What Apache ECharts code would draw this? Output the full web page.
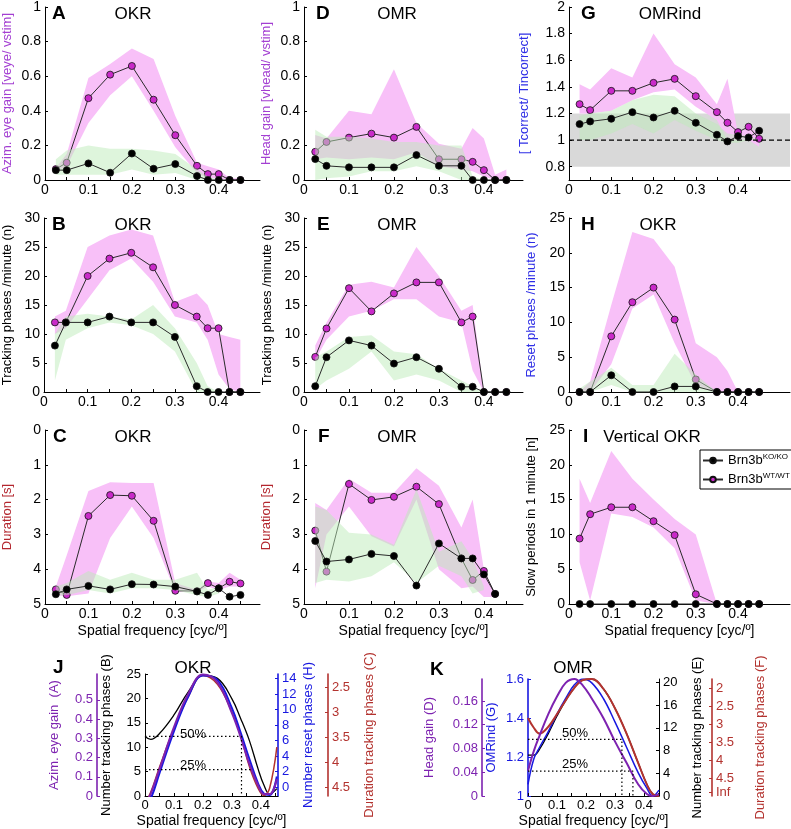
<!DOCTYPE html>
<html>
<head>
<meta charset="utf-8">
<script src="https://cdn.jsdelivr.net/npm/echarts@6/dist/echarts.min.js"></script>
<style>
  html, body { margin: 0; padding: 0; background: #fff; }
  #chart { width: 791px; height: 829px; }
</style>
</head>
<body>
<div id="chart"></div>
<script>
// spatial frequencies (cyc/deg) used in panels A-I
var freq = [0.025, 0.05, 0.1, 0.15, 0.2, 0.25, 0.3, 0.35, 0.375, 0.4, 0.425, 0.45];

// A  OKR eye gain
var wtA = [0.063, 0.10, 0.473, 0.609, 0.659, 0.464, 0.259, 0.082, 0.034, 0.034, 0, 0];
var koA = [0.057, 0.057, 0.096, 0.042, 0.153, 0.065, 0.092, 0.023, 0, 0, 0, 0];
var wtHiA = [0.07, 0.15, 0.59, 0.67, 0.76, 0.70, 0.37, 0.10, 0.08, 0.06, 0.01, 0.01];
var wtLoA = [0.05, 0.08, 0.33, 0.49, 0.60, 0.40, 0.19, 0.04, 0.01, 0.01, 0, 0];
var koHiA = [0.12, 0.17, 0.20, 0.18, 0.18, 0.17, 0.15, 0.06, 0.02, 0, null, null];
var koLoA = [0.03, 0.03, 0.03, 0.03, 0.06, 0.03, 0.04, 0, 0, 0, null, null];

// B  OKR tracking phases
var wtB = [12, 12, 20, 23, 24, 21.5, 15, 13, 11, 11, 0, 0];
var koB = [8, 12, 12, 13, 12, 12, 9.5, 1, 0, 0, 0, 0];
var wtHiB = [13, 14, 25, 27, 28, 27, 15.5, 17, 15, 10, 9.5, 9];
var wtLoB = [10, 11, 16, 21, 23, 19, 13, 12, 9, 3, 0.5, 0];
var koHiB = [10, 13, 13.5, 13, 12.5, 15, 11, 5, 1, 0, null, null];
var koLoB = [2, 9, 11, 12, 11.5, 10, 7, 0, 0, 0, null, null];

// C  OKR duration
var wtC = [4.58, 4.74, 2.47, 1.87, 1.89, 2.61, 4.62, 4.63, 4.40, 4.55, 4.36, 4.41];
var koC = [4.72, 4.58, 4.48, 4.58, 4.43, 4.44, 4.50, 4.64, 4.74, 4.55, 4.79, 4.74];
var wtHiC = [4.5, 3.6, 1.75, 1.5, 1.52, 1.52, 4.4, 4.6, 4.35, 4.4, 4.1, 4.3];
var wtLoC = [4.75, 4.78, 4.7, 3.1, 2.2, 3.1, 4.65, 4.65, 4.5, 4.6, 4.5, 4.5];
var koHiC = [4.5, 4.4, 4.05, 4.3, 4.1, 4.3, 4.3, 4.1, 4.6, 4.5, null, null];
var koLoC = [4.75, 4.75, 4.6, 4.7, 4.55, 4.55, 4.6, 4.75, 4.8, 4.7, null, null];

// D  OMR head gain
var wtD = [0.163, 0.22, 0.245, 0.268, 0.245, 0.307, 0.12, 0.12, 0.105, 0.057, 0, 0];
var koD = [0.121, 0.082, 0.073, 0.073, 0.073, 0.144, 0.082, 0.082, 0, 0, 0, 0];
var wtHiD = [0.26, 0.24, 0.40, 0.38, 0.64, 0.33, 0.21, 0.18, 0.30, 0.24, 0.03, 0.06];
var wtLoD = [0.12, 0.13, 0.12, 0.13, 0.12, 0.16, 0.08, 0.06, 0.05, 0.02, 0, 0];
var koHiD = [0.29, 0.25, 0.25, 0.24, 0.22, 0.22, 0.20, 0.20, 0.02, 0, null, null];
var koLoD = [0, 0.01, 0.02, 0.05, 0.05, 0.08, 0.05, 0, 0, 0, null, null];

// E  OMR tracking phases
var wtE = [6.05, 10.95, 17.9, 13.9, 17, 18.9, 18.9, 12, 13, 0, 0, 0];
var koE = [1, 6, 8.9, 8, 4.9, 6, 4, 0.9, 0.9, 0, 0, 0];
var wtHiE = [8, 12, 18.5, 19, 18, 25, 20, 14, 15, 0, null, null];
var wtLoE = [5.5, 9, 13, 14, 16, 16, 13, 12, 3.7, 0, null, null];
var koHiE = [6, 7, 9.5, 9.8, 7, 6.5, 4, 2, 1, 0, null, null];
var koLoE = [0.5, 2, 4, 7, 2, 3, 2, 0, 0, 0, null, null];

// F  OMR duration
var wtF = [2.89, 4.07, 1.55, 2.01, 1.92, 1.63, 2.13, 3.69, 4.31, 4.05, 4.71, null];
var koF = [3.19, 3.78, 3.72, 3.56, 3.62, 4.47, 3.26, 3.69, 3.69, 4.15, 4.71, null];
var wtHiF = [2.1, 2.3, 1.4, 1.8, 1.8, 1.1, 1.6, 2.8, 2.0, 4.0, 4.7, null];
var wtLoF = [4.55, 3.0, 2.2, 3.05, 3.35, 2.0, 4.0, 4.55, 4.5, 4.8, 4.8, null];
var koHiF = [2.2, 2.3, 2.95, 3.0, 3.3, 1.7, 3.5, 3.2, 3.7, 4.5, null, null];
var koLoF = [4.4, 4.3, 4.35, 4.2, 3.8, 4.4, 3.9, 4.2, 4.7, 4.6, null, null];

// G  OMRind
var wtG = [1.27, 1.225, 1.37, 1.37, 1.43, 1.46, 1.33, 1.21, 1.13, 1.06, 1.10, 1.01];
var koG = [1.12, 1.14, 1.16, 1.21, 1.17, 1.22, 1.13, 1.04, 0.99, 1.03, 1.02, 1.07];
var wtHiG = [1.42, 1.38, 1.54, 1.47, 1.80, 1.57, 1.47, 1.27, 1.46, 1.05, 1.10, 1.05];
var wtLoG = [1.2, 1.2, 1.22, 1.3, 1.36, 1.38, 1.25, 1.15, 1.0, 1.0, 1.0, 0.95];
var koHiG = [1.18, 1.2, 1.22, 1.3, 1.34, 1.33, 1.2, 1.12, 1.05, 1.04, 1.03, 1.0];
var koLoG = [1.0, 1.0, 1.05, 1.12, 1.05, 1.15, 1.07, 1.0, 0.98, 0.98, 1.0, 1.0];
var gNoise = [0.8, 1.2];   // grey chance band
var gChance = 1;           // dashed reference

// H  OKR reset phases
var wtH = [0, 0, 8, 12.9, 15, 10.4, 1.8, 0, 0, 0, 0, 0];
var koH = [0, 0, 2.4, 0, 0, 0.8, 0.8, 0, 0, 0, 0, 0];
var wtHiH = [0, 1.5, 12.5, 23, 22, 18, 7, 5, 3, 0, null, null];
var wtLoH = [0, 0, 4, 12, 14, 7, 1, 0, 0, 0, null, null];
var koHiH = [0.5, 1.5, 3.5, 1, 1, 5.5, 2.5, 0, null, null, null, null];
var koLoH = [0, 0, 1, 0, 0, 0, 0, 0, null, null, null, null];

// I  vertical OKR slow periods
var wtI = [9.4, 12.9, 13.9, 13.9, 11.9, 9.9, 1.4, 0, 0, 0, 0, 0];
var koI = [0, 0, 0, 0, 0, 0, 0, 0, 0, 0, 0, 0];
var wtHiI = [18, 14.5, 22, 18, 15, 12.2, 10, 0, null, null, null, null];
var wtLoI = [6, 0.5, 13, 12.5, 11, 8, 0.5, 0, null, null, null, null];

// J  OKR fitted curves, in units of the tracking-phase axis (B)
var jX = [0, 0.02, 0.05, 0.1, 0.15, 0.2, 0.25, 0.3, 0.33, 0.36, 0.39, 0.41, 0.43, 0.455];
var jTrack = [12.2, 11.6, 12.8, 16.6, 21.4, 24.7, 24.1, 19.9, 15.9, 11.4, 5.6, 2.3, 0.4, 1.5];
var jGain = [-1.8, 0.5, 5.5, 14.1, 21, 24.9, 23.3, 17, 12.1, 6.6, 2.2, 0.4, 0.4, 3.5];
var jReset = [-2, -0.5, 4.7, 13.3, 20.5, 24.7, 23.8, 18, 13, 7.6, 2.6, 0.5, 0.2, 4];
var jDur = [-1.5, 0.8, 5.9, 13.8, 20.4, 24.7, 22.9, 17.2, 12.4, 6.1, 1.6, 0.1, 1.6, 10];
var jHalf = [12.2, 0.333];
var jQuarter = [5.4, 0.37];

// K  OMR fitted curves, in units of the OMRind axis (G)
var kX = [0, 0.02, 0.04, 0.07, 0.1, 0.13, 0.16, 0.19, 0.22, 0.26, 0.3, 0.34, 0.38, 0.41, 0.43, 0.452];
var kGain = [1.13, 1.23, 1.31, 1.42, 1.51, 1.58, 1.6, 1.565, 1.5, 1.4, 1.28, 1.17, 1.06, 1.01, 1.0, 1.01];
var kInd = [1.06, 1.19, 1.25, 1.33, 1.42, 1.5, 1.57, 1.6, 1.58, 1.5, 1.38, 1.25, 1.12, 1.04, 1.0, 1.03];
var kTrack = [1.21, 1.21, 1.24, 1.32, 1.41, 1.49, 1.555, 1.595, 1.6, 1.55, 1.45, 1.32, 1.17, 1.06, 1.01, 1.0];
var kDur = [1.4, 1.35, 1.32, 1.355, 1.42, 1.49, 1.555, 1.595, 1.6, 1.55, 1.45, 1.32, 1.17, 1.06, 1.01, 1.0];
var kHalf = [1.29, 0.324];
var kQuarter = [1.128, 0.362];

var FONT = 'Liberation Sans, Arial, sans-serif';
var PURPLE = '#a33fd2', BLUE = '#2e2ee6', DRED = '#b3262e';
var JPURPLE = '#7d22b0', JBLUE = '#1818e0', JRED = '#b3332f';
var PINK = '#f8c0f8', GREEN = 'rgba(188,235,184,0.49)', WTDOT = '#c92ac9';

var chart = echarts.init(document.getElementById('chart'));

var colLeft = [42, 304, 569], colWidth = [218, 219, 221], colMax = [0.495, 0.487, 0.523];
var rowTop = [6, 218, 430];
var grids = [], xAxes = [], yAxes = [], series = [];

// panel order: A D G / B E H / C F I
var panels = [
  { wt: wtA, ko: koA, wh: wtHiA, wl: wtLoA, kh: koHiA, kl: koLoA, min: 0, max: 1, interval: 0.2, name: 'Azim. eye gain [veye/ vstim]', nc: PURPLE, gap: 31 },
  { wt: wtD, ko: koD, wh: wtHiD, wl: wtLoD, kh: koHiD, kl: koLoD, min: 0, max: 1, interval: 0.2, name: 'Head gain [vhead/ vstim]', nc: PURPLE, gap: 31 },
  { wt: wtG, ko: koG, wh: wtHiG, wl: wtLoG, kh: koHiG, kl: koLoG, min: 0.7, max: 2, labels: [0.8, 1, 1.2, 1.4, 1.6, 1.8, 2], name: '[ Tcorrect/ Tincorrect]', nc: BLUE, gap: 38 },
  { wt: wtB, ko: koB, wh: wtHiB, wl: wtLoB, kh: koHiB, kl: koLoB, min: 0, max: 30, interval: 5, name: 'Tracking phases /minute (n)', nc: '#000', gap: 30 },
  { wt: wtE, ko: koE, wh: wtHiE, wl: wtLoE, kh: koHiE, kl: koLoE, min: 0, max: 30, interval: 5, name: 'Tracking phases /minute (n)', nc: '#000', gap: 30 },
  { wt: wtH, ko: koH, wh: wtHiH, wl: wtLoH, kh: koHiH, kl: koLoH, min: 0, max: 25, interval: 5, name: 'Reset phases /minute (n)', nc: BLUE, gap: 31 },
  { wt: wtC, ko: koC, wh: wtHiC, wl: wtLoC, kh: koHiC, kl: koLoC, min: 0, max: 5, interval: 1, inverse: true, name: 'Duration [s]', nc: DRED, gap: 31 },
  { wt: wtF, ko: koF, wh: wtHiF, wl: wtLoF, kh: koHiF, kl: koLoF, min: 0, max: 5, interval: 1, inverse: true, name: 'Duration [s]', nc: DRED, gap: 31 },
  { wt: wtI, ko: koI, wh: wtHiI, wl: wtLoI, kh: null, kl: null, min: 0, max: 25, interval: 5, name: 'Slow periods in 1 minute [n]', nc: '#000', gap: 31 }
];

function bandSeries(idx, yIdx, xs, lo, hi, color, z) {
  return {
    type: 'custom', xAxisIndex: idx, yAxisIndex: yIdx, z: z, silent: true, clip: true,
    data: [[xs[0], 0]],
    renderItem: function (params, api) {
      var children = [], run = [];
      function flush() {
        if (run.length > 1) {
          var pts = run.map(function (i) { return api.coord([xs[i], hi[i]]); });
          run.slice().reverse().forEach(function (i) { pts.push(api.coord([xs[i], lo[i]])); });
          children.push({ type: 'polygon', shape: { points: pts }, style: { fill: color } });
        }
        run = [];
      }
      for (var i = 0; i < xs.length; i++) {
        if (hi[i] == null || lo[i] == null) flush(); else run.push(i);
      }
      flush();
      return { type: 'group', children: children };
    }
  };
}

function dotSeries(name, idx, ys, fill, z) {
  return {
    type: 'line', name: name, xAxisIndex: idx, yAxisIndex: idx, z: z, clip: false,
    data: freq.map(function (f, i) { return [f, ys[i]]; }),
    symbol: 'circle', symbolSize: 7, showSymbol: true,
    lineStyle: { color: '#2a2a2a', width: 1 },
    itemStyle: { color: fill, borderColor: '#111', borderWidth: 0.8 },
    emphasis: { disabled: true }
  };
}

var tickX = [0, 0.05, 0.1, 0.15, 0.2, 0.25, 0.3, 0.35, 0.4, 0.45];
var labX = [0, 0.1, 0.2, 0.3, 0.4];

panels.forEach(function (p, i) {
  var r = Math.floor(i / 3), c = i % 3;
  grids.push({ left: colLeft[c], top: rowTop[r], width: colWidth[c], height: 174 });
  var xa = {
    type: 'value', gridIndex: i, min: 0, max: colMax[c],
    axisLine: { onZero: false, lineStyle: { color: '#000', width: 1 } },
    axisTick: { inside: true, length: 3, customValues: tickX, lineStyle: { color: '#000' } },
    axisLabel: { customValues: labX, margin: 3, color: '#000', fontFamily: FONT, fontSize: 14 },
    splitLine: { show: false }
  };
  if (r === 2) {
    xa.name = 'Spatial frequency [cyc/\u00ba]';
    xa.nameLocation = 'middle';
    xa.nameGap = 20;
    xa.nameTextStyle = { color: '#000', fontFamily: FONT, fontSize: 14 };
  }
  xAxes.push(xa);
  var ya = {
    type: 'value', gridIndex: i, min: p.min, max: p.max, inverse: !!p.inverse,
    axisLine: { show: true, onZero: false, lineStyle: { color: '#000', width: 1 } },
    axisTick: { show: true, inside: true, length: 3, lineStyle: { color: '#000' } },
    axisLabel: { margin: 4, color: '#000', fontFamily: FONT, fontSize: 14, showMinLabel: true, showMaxLabel: true },
    splitLine: { show: false },
    name: p.name, nameLocation: 'middle', nameGap: p.gap,
    nameTextStyle: { color: p.nc, fontFamily: FONT, fontSize: 13 }
  };
  if (p.interval) ya.interval = p.interval;
  if (p.labels) {
    ya.axisLabel.customValues = p.labels;
    ya.axisTick.customValues = p.labels;
  }
  yAxes.push(ya);

  if (i === 2) {
    series.push(bandSeries(i, i, [0, colMax[c]], [gNoise[0], gNoise[0]], [gNoise[1], gNoise[1]], '#d9d9d9', 0));
    series.push({
      type: 'line', xAxisIndex: i, yAxisIndex: i, z: 5, silent: true, showSymbol: false,
      data: [[0, gChance], [colMax[c], gChance]],
      lineStyle: { color: '#000', width: 1.2, type: [5, 3] }
    });
  }
  series.push(bandSeries(i, i, freq, p.wl, p.wh, PINK, 1));
  series.push(dotSeries('wt', i, p.wt, WTDOT, 2));
  if (p.kh) series.push(bandSeries(i, i, freq, p.kl, p.kh, GREEN, 3));
  series.push(dotSeries('ko', i, p.ko, '#000', 4));
});

// ---- J and K: several y axes on one grid
function sideAxis(grid, pos, off, min, max, color, labels, name, gap, extra) {
  var a = {
    type: 'value', gridIndex: grid, position: pos, offset: off, min: min, max: max,
    axisLine: { show: true, onZero: false, lineStyle: { color: color, width: color === '#000' ? 1 : 1.6 } },
    axisTick: { show: true, inside: true, length: 3, lineStyle: { color: color } },
    axisLabel: { margin: 4, color: color, fontFamily: FONT, fontSize: 13 },
    splitLine: { show: false },
    name: name, nameLocation: 'middle', nameGap: gap,
    nameTextStyle: { color: color, fontFamily: FONT, fontSize: 13 }
  };
  if (labels) { a.axisLabel.customValues = labels; a.axisTick.customValues = labels; }
  if (extra) Object.keys(extra).forEach(function (k) { a[k] = extra[k]; });
  return a;
}

grids.push({ left: 145, top: 674, width: 133, height: 123 });
grids.push({ left: 528, top: 679, width: 131, height: 118 });
[0.459, 0.452].forEach(function (mx, k) {
  xAxes.push({
    type: 'value', gridIndex: 9 + k, min: 0, max: mx,
    axisLine: { onZero: false, lineStyle: { color: '#000', width: 1 } },
    axisTick: { inside: true, length: 3, customValues: tickX, lineStyle: { color: '#000' } },
    axisLabel: { customValues: labX, margin: 3, color: '#000', fontFamily: FONT, fontSize: 13 },
    splitLine: { show: false },
    name: 'Spatial frequency [cyc/\u00ba]', nameLocation: 'middle', nameGap: 18,
    nameTextStyle: { color: '#000', fontFamily: FONT, fontSize: 14 }
  });
});

// J axes: 9 black (B), 10 purple (A), 11 blue (H), 12 red (C)
yAxes.push(sideAxis(9, 'left', 0, 0, 25, '#000', [0, 5, 10, 15, 20, 25], 'Number tracking phases (B)', 32));
yAxes.push(sideAxis(9, 'left', 48, 0, 0.634, JPURPLE, [0, 0.1, 0.2, 0.3, 0.4, 0.5], 'Azim. eye gain  (A)', 36));
yAxes.push(sideAxis(9, 'right', 0, -1.15, 14.6, JBLUE, [0, 2, 4, 6, 8, 10, 12, 14], 'Number reset phases (H)', 24));
yAxes.push(sideAxis(9, 'right', 50, 2.24, 4.68, JRED, [2.5, 3, 3.5, 4, 4.5], 'Duration tracking phases (C)', 35, { inverse: true }));
// K axes: 13 blue (G), 14 purple (D), 15 black (E), 16 red (F)
yAxes.push(sideAxis(10, 'left', 0, 1, 1.6, JBLUE, [1, 1.2, 1.4, 1.6], 'OMRind (G)', 30));
yAxes.push(sideAxis(10, 'left', 46, 0, 0.197, JPURPLE, [0, 0.04, 0.08, 0.12, 0.16], 'Head gain (D)', 46));
yAxes.push(sideAxis(10, 'right', 0, 0, 20.6, '#000', [0, 4, 8, 12, 16, 20], 'Number tracking phases (E)', 32));
var redK = sideAxis(10, 'right', 53, 1.73, 4.99, JRED, [2, 2.5, 3, 3.5, 4, 4.5, 4.88], 'Duration tracking phases (F)', 42, { inverse: true });
redK.axisLabel.formatter = function (v) { return v > 4.8 ? 'Inf' : String(v); };
yAxes.push(redK);

function curve(xIdx, yIdx, xs, ys, color, w, z) {
  return {
    type: 'line', xAxisIndex: xIdx, yAxisIndex: yIdx, z: z, silent: true, clip: true,
    smooth: 0.4, showSymbol: false,
    data: xs.map(function (x, i) { return [x, ys[i]]; }),
    lineStyle: { color: color, width: w }
  };
}
function dotted(xIdx, yIdx, pts) {
  return {
    type: 'line', xAxisIndex: xIdx, yAxisIndex: yIdx, z: 6, silent: true, showSymbol: false,
    data: pts, lineStyle: { color: '#000', width: 1.2, type: [1.5, 2.5] }
  };
}

series.push(curve(9, 9, jX, jTrack, '#000', 1.3, 2));
series.push(curve(9, 9, jX, jDur, JRED, 1.5, 3));
series.push(curve(9, 9, jX, jReset, JBLUE, 2, 4));
series.push(curve(9, 9, jX, jGain, JPURPLE, 2, 5));
series.push(dotted(9, 9, [[0, jHalf[0]], [jHalf[1], jHalf[0]], [jHalf[1], 0]]));
series.push(dotted(9, 9, [[0, jQuarter[0]], [jQuarter[1], jQuarter[0]]]));

series.push(curve(10, 13, kX, kTrack, '#000', 1.3, 2));
series.push(curve(10, 13, kX, kInd, JBLUE, 1.5, 3));
series.push(curve(10, 13, kX, kDur, JRED, 2, 4));
series.push(curve(10, 13, kX, kGain, JPURPLE, 2, 5));
series.push(dotted(10, 13, [[0, kHalf[0]], [kHalf[1], kHalf[0]], [kHalf[1], 1]]));
series.push(dotted(10, 13, [[0, kQuarter[0]], [kQuarter[1], kQuarter[0]], [kQuarter[1], 1]]));

function label(x, y, text, size, bold, align) {
  return {
    type: 'text', x: x, y: y, silent: true,
    style: {
      text: text, fill: '#000', font: (bold ? 'bold ' : '') + size + 'px ' + FONT,
      textAlign: align || 'center', align: align || 'center',
      textVerticalAlign: 'middle', verticalAlign: 'middle'
    }
  };
}

var graphics = [
  label(52, 14, 'A', 19, true, 'left'), label(133, 14, 'OKR', 17),
  label(316, 14, 'D', 19, true, 'left'), label(397, 14, 'OMR', 17),
  label(581, 14, 'G', 19, true, 'left'), label(670, 14, 'OMRind', 17),
  label(52, 225, 'B', 19, true, 'left'), label(133, 225, 'OKR', 17),
  label(317, 225, 'E', 19, true, 'left'), label(397, 225, 'OMR', 17),
  label(581, 225, 'H', 19, true, 'left'), label(658, 225, 'OKR', 17),
  label(53, 437, 'C', 19, true, 'left'), label(133, 437, 'OKR', 17),
  label(318, 437, 'F', 19, true, 'left'), label(397, 437, 'OMR', 17),
  label(583, 437, 'I', 19, true, 'left'), label(652, 437, 'Vertical OKR', 17),
  label(53, 668, 'J', 19, true, 'left'), label(193, 668, 'OKR', 17),
  label(430, 670, 'K', 19, true, 'left'), label(573, 668, 'OMR', 17),
  label(193, 734, '50%', 13), label(193, 765, '25%', 13),
  label(575, 733, '50%', 13), label(575, 764, '25%', 13)
];

chart.setOption({
  animation: false,
  backgroundColor: '#fff',
  textStyle: { fontFamily: FONT },
  grid: grids,
  xAxis: xAxes,
  yAxis: yAxes,
  legend: {
    left: 700, top: 450, orient: 'vertical', data: ['ko', 'wt'], selectedMode: false,
    itemWidth: 20, itemHeight: 7, itemGap: 5, padding: [3, 4, 3, 2],
    borderColor: '#000', borderWidth: 1, backgroundColor: '#fff',
    formatter: function (n) { return n === 'ko' ? '{b|Brn3b}{s|KO/KO}' : '{b|Brn3b}{s|WT/WT}'; },
    textStyle: {
      color: '#000', fontFamily: FONT, fontSize: 13,
      rich: { b: { fontSize: 13, fontFamily: FONT }, s: { fontSize: 8, fontFamily: FONT, padding: [0, 0, 7, 0] } }
    }
  },
  graphic: graphics,
  series: series
});
</script>
</body>
</html>
